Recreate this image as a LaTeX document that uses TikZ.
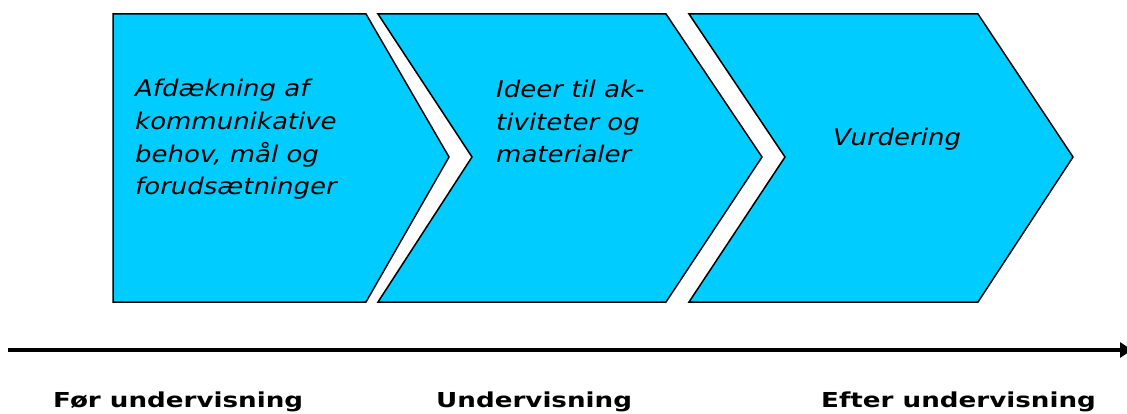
\documentclass[tikz,border=0pt]{standalone}
\usepackage{fontspec}
\setmainfont{DejaVu Sans}
\newfontfamily\boxfont{DejaVu Sans}
\usetikzlibrary{arrows.meta}
\definecolor{chev}{HTML}{00CCFF}
\newcommand{\sxb}[1]{\scalebox{1.13}[1]{#1}}
\newcommand{\sxl}[1]{\scalebox{1.27}[1]{#1}}
\tikzset{
  chevron/.style={fill=chev, draw=black, line width=1.5pt, line join=miter},
  boxtext/.style={anchor=base west, inner sep=0pt, align=left,
    font=\boxfont\itshape\fontsize{23}{32.7}\selectfont},
  phaselabel/.style={anchor=base west, inner sep=0pt,
    font=\bfseries\fontsize{20.6}{22}\selectfont},
  timeline/.style={line width=3.6pt, -{Triangle[length=12pt,width=15pt]}}
}
\begin{document}
\begin{tikzpicture}[x=1pt,y=-1pt]
\useasboundingbox (0,0) rectangle (1127,414);
% chevrons
\draw[chevron] (113,14) -- (366,14) -- (449,157) -- (366,302) -- (113,302) -- cycle;
\draw[chevron] (378,14) -- (666,14) -- (762,157) -- (666,302) -- (378,302) -- (472,157) -- cycle;
\draw[chevron] (689,14) -- (978,14) -- (1073,157) -- (978,302) -- (689,302) -- (785,157) -- cycle;
% texts in chevrons (base anchor = baseline of the last line)
\node[boxtext] (t1) at (135,195) {\sxb{Afdækning af}\\\sxb{kommunikative}\\\sxb{behov, mål og}\\\sxb{forudsætninger}};
\node[boxtext] (t2) at (496,163) {\sxb{Ideer til ak-}\\\sxb{tiviteter og}\\\sxb{materialer}};
\node[boxtext] (t3) at (833,146) {\sxb{Vurdering}};
% timeline
\coordinate (tlstart) at (8,350);
\coordinate (tlend) at (1132,350);
\draw[timeline] (tlstart) -- (tlend);
% phase labels
\node[phaselabel] (p1) at (53,407) {\sxl{Før undervisning}};
\node[phaselabel] (p2) at (436,407) {\sxl{Undervisning}};
\node[phaselabel] (p3) at (821,407) {\sxl{Efter undervisning}};
\end{tikzpicture}
\end{document}
